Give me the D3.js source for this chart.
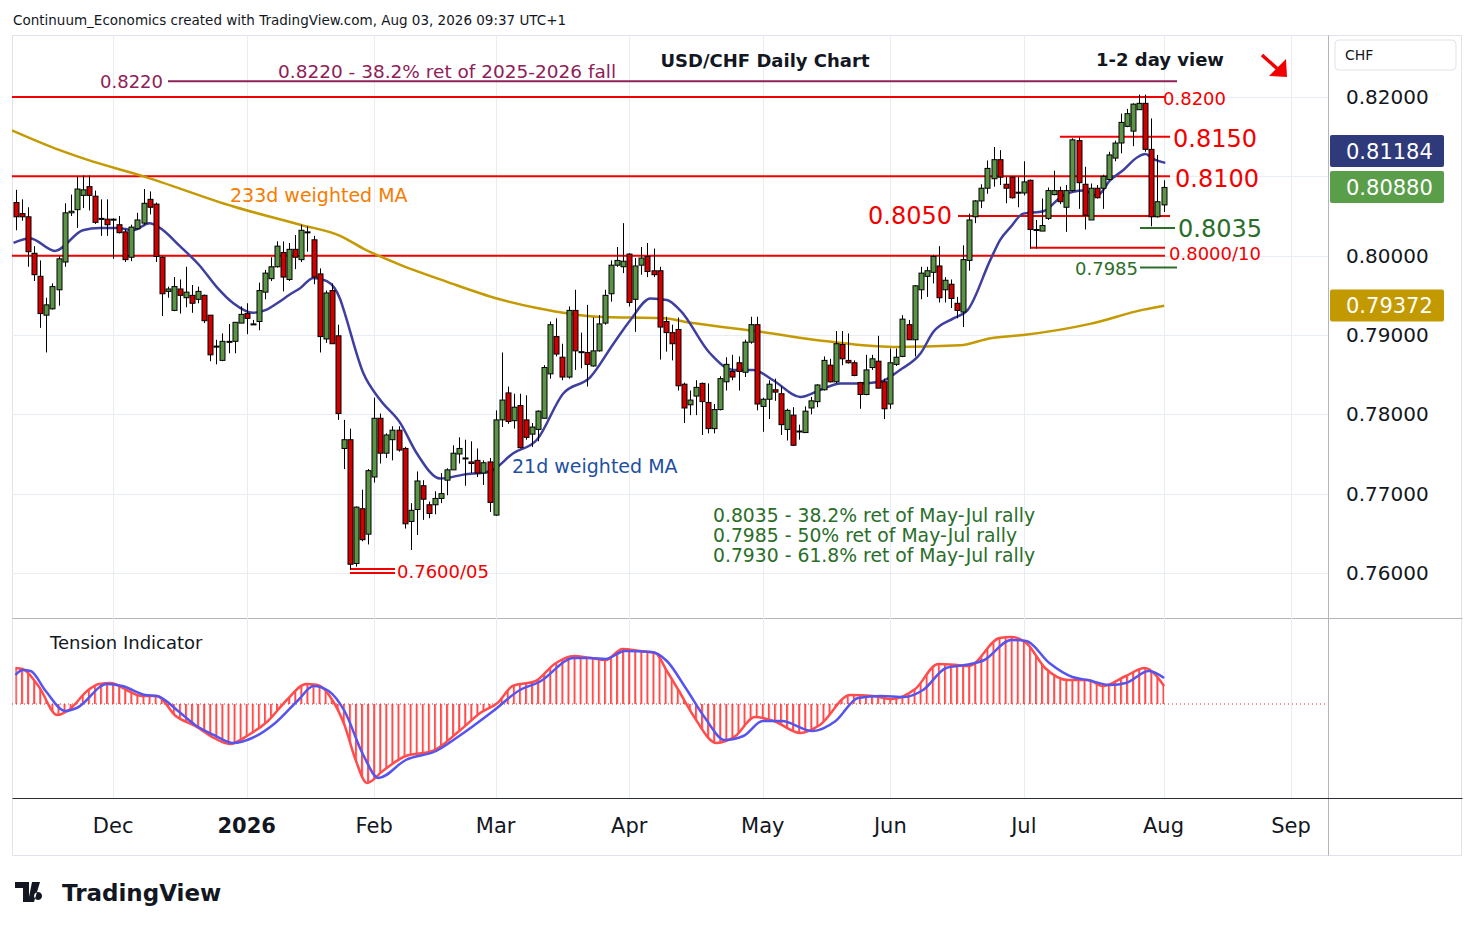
<!DOCTYPE html>
<html>
<head>
<meta charset="utf-8">
<title>USD/CHF Daily Chart</title>
<script src="https://d3js.org/d3.v7.min.js"></script>
<style>
body{margin:0;background:#fff;}
text{font-family:"DejaVu Sans",sans-serif;}
</style>
</head>
<body>
<script>
// daily candles [open, high, low, close]
var candles = [
 [.8067,.8083,.8032,.8049],[.8053,.8071,.8044,.8049],[.8049,.8061,.7986,.8005],[.8003,.8012,.7968,.7976],
 [.7974,.7994,.7909,.7927],[.7925,.7947,.7878,.7938],[.7933,.7965,.7932,.7961],[.7957,.7999,.7937,.7996],
 [.7992,.8066,.7986,.8054],[.8054,.8077,.8050,.8056],[.8058,.8100,.8035,.8084],[.8076,.8101,.8060,.8083],
 [.8087,.8101,.8057,.8076],[.8075,.8082,.8040,.8042],[.8047,.8071,.8025,.8047],[.8046,.8071,.8025,.8039],
 [.8046,.8047,.7996,.8046],[.8039,.8050,.8028,.8029],[.8030,.8033,.7992,.7995],[.7998,.8039,.7993,.8036],
 [.8034,.8054,.8033,.8045],[.8041,.8084,.8039,.8066],[.8071,.8081,.8052,.8061],[.8065,.8067,.7992,.7999],
 [.7998,.7999,.7924,.7952],[.7955,.7961,.7947,.7958],[.7931,.7973,.7930,.7961],[.7958,.7970,.7927,.7950],
 [.7947,.7986,.7935,.7954],[.7950,.7963,.7928,.7940],[.7945,.7961,.7940,.7955],[.7950,.7951,.7915,.7918],
 [.7925,.7925,.7867,.7875],[.7886,.7894,.7863,.7886],[.7868,.7902,.7867,.7892],[.7892,.7914,.7877,.7892],
 [.7892,.7916,.7877,.7916],[.7915,.7936,.7915,.7926],[.7927,.7940,.7901,.7921],[.7914,.7919,.7913,.7914],
 [.7917,.7966,.7906,.7956],[.7954,.7982,.7945,.7978],[.7971,.7998,.7968,.7986],[.7986,.8018,.7985,.8012],
 [.8004,.8018,.7955,.7973],[.7970,.8016,.7968,.8008],[.8008,.8026,.7983,.7998],[.7995,.8039,.7992,.8032],
 [.8030,.8037,.8005,.8030],[.8020,.8025,.7964,.7973],[.7977,.7984,.7878,.7898],[.7895,.7956,.7890,.7953],
 [.7956,.7965,.7889,.7889],[.7899,.7913,.7793,.7801],[.7757,.7793,.7731,.7768],[.7768,.7782,.7604,.7611],
 [.7612,.7684,.7608,.7683],[.7681,.7705,.7640,.7642],[.7649,.7731,.7636,.7729],[.7721,.7821,.7714,.7795],
 [.7795,.7801,.7738,.7751],[.7751,.7776,.7745,.7774],[.7768,.7785,.7742,.7780],[.7780,.7785,.7753,.7755],
 [.7757,.7759,.7656,.7662],[.7665,.7688,.7629,.7679],[.7680,.7728,.7648,.7716],[.7710,.7717,.7667,.7693],
 [.7686,.7690,.7669,.7675],[.7686,.7703,.7674,.7694],[.7694,.7726,.7688,.7700],[.7717,.7732,.7698,.7730],
 [.7730,.7761,.7730,.7751],[.7750,.7771,.7738,.7757],[.7745,.7768,.7710,.7745],[.7740,.7766,.7726,.7738],
 [.7742,.7757,.7721,.7726],[.7726,.7742,.7711,.7739],[.7740,.7745,.7677,.7689],[.7673,.7805,.7672,.7793],
 [.7793,.7878,.7784,.7818],[.7827,.7835,.7788,.7791],[.7792,.7826,.7782,.7809],[.7811,.7826,.7757,.7758],
 [.7793,.7824,.7768,.7771],[.7775,.7789,.7759,.7784],[.7781,.7805,.7766,.7804],[.7795,.7862,.7795,.7859],
 [.7851,.7917,.7845,.7913],[.7898,.7921,.7873,.7876],[.7872,.7889,.7843,.7847],[.7847,.7936,.7845,.7931],
 [.7931,.7957,.7856,.7880],[.7879,.7903,.7858,.7879],[.7878,.7938,.7835,.7863],[.7861,.7922,.7860,.7880],
 [.7880,.7925,.7879,.7914],[.7915,.7957,.7913,.7950],[.7952,.7994,.7942,.7988],[.7988,.8011,.7986,.7994],
 [.7986,.8041,.7978,.7993],[.8002,.8003,.7936,.7941],[.7945,.7997,.7904,.7987],[.7988,.8011,.7976,.7997],
 [.7999,.8016,.7973,.7980],[.7981,.8009,.7973,.7976],[.7981,.7986,.7869,.7910],[.7917,.7923,.7879,.7903],
 [.7903,.7913,.7868,.7889],[.7907,.7922,.7830,.7836],[.7838,.7840,.7789,.7808],[.7812,.7830,.7799,.7818],
 [.7823,.7843,.7799,.7834],[.7839,.7840,.7774,.7816],[.7815,.7839,.7776,.7782],[.7782,.7813,.7776,.7806],
 [.7806,.7848,.7805,.7845],[.7841,.7872,.7830,.7863],[.7854,.7875,.7843,.7847],[.7865,.7873,.7830,.7854],
 [.7853,.7894,.7847,.7891],[.7891,.7923,.7889,.7913],[.7913,.7923,.7805,.7813],[.7810,.7821,.7778,.7819],
 [.7819,.7843,.7794,.7838],[.7831,.7845,.7817,.7828],[.7826,.7835,.7774,.7787],[.7781,.7807,.7767,.7805],
 [.7799,.7809,.7760,.7761],[.7779,.7787,.7768,.7779],[.7777,.7810,.7777,.7804],[.7808,.7822,.7800,.7817],
 [.7816,.7838,.7809,.7837],[.7831,.7873,.7830,.7868],[.7862,.7870,.7840,.7841],[.7841,.7905,.7839,.7889],
 [.7888,.7905,.7862,.7870],[.7868,.7902,.7864,.7865],[.7865,.7868,.7848,.7849],[.7840,.7841,.7807,.7825],
 [.7825,.7875,.7824,.7856],[.7859,.7875,.7856,.7870],[.7867,.7899,.7833,.7833],[.7841,.7845,.7794,.7807],
 [.7813,.7883,.7807,.7865],[.7863,.7883,.7861,.7872],[.7873,.7925,.7872,.7920],[.7913,.7919,.7894,.7894],
 [.7894,.7963,.7873,.7962],[.7957,.7986,.7945,.7978],[.7974,.7986,.7948,.7981],[.7979,.8001,.7965,.7999],
 [.7987,.8012,.7941,.7947],[.7957,.7973,.7941,.7969],[.7964,.7970,.7934,.7946],[.7940,.7948,.7921,.7931],
 [.7929,.8013,.7910,.7995],[.7994,.8053,.7981,.8045],[.8049,.8070,.8041,.8069],[.8069,.8090,.8060,.8085],
 [.8085,.8120,.8078,.8110],[.8097,.8137,.8087,.8121],[.8121,.8133,.8089,.8099],[.8090,.8099,.8066,.8085],
 [.8099,.8100,.8072,.8073],[.8080,.8099,.8061,.8080],[.8079,.8119,.8076,.8093],[.8095,.8096,.8009,.8033],
 [.8033,.8045,.8009,.8033],[.8031,.8072,.8031,.8038],[.8047,.8086,.8045,.8082],[.8077,.8107,.8076,.8082],
 [.8082,.8087,.8065,.8068],[.8061,.8089,.8030,.8082],[.8082,.8148,.8081,.8146],[.8145,.8149,.8059,.8092],
 [.8090,.8112,.8033,.8051],[.8045,.8091,.8045,.8085],[.8085,.8089,.8072,.8073],[.8085,.8102,.8059,.8100],
 [.8096,.8131,.8095,.8127],[.8123,.8145,.8119,.8142],[.8142,.8179,.8129,.8168],[.8163,.8185,.8162,.8179],
 [.8157,.8192,.8138,.8191],[.8184,.8203,.8184,.8192],[.8192,.8203,.8131,.8134],[.8134,.8173,.8037,.8049],
 [.8049,.8127,.8048,.8068],[.8064,.8095,.8055,.8086]
];

// 21d weighted MA, read at bar positions [barIndex, price]
var ma21 = [[-0.4,.8016],[2.3,.8022],[6.4,.8006],[11,.8032],[13.8,.8035],[16.6,.8035],[19.3,.8032],[22,.8041],
 [23.7,.8035],[27,.8012],[30.3,.7987],[33,.7961],[35.8,.7940],[39,.7928],[41.3,.7932],[43,.7940],[45.1,.7951],
 [46.8,.7959],[49,.7972],[51.2,.7968],[53.4,.7945],[54,.7931],[57.2,.7852],[60,.7818],[63.3,.7789],[66,.7751],
 [69.9,.7719],[73.7,.7724],[78,.7728],[81.9,.7751],[85.8,.7768],[90.1,.7826],[94.6,.7847],[98.4,.7889],
 [101.2,.7919],[104.5,.7946],[107.2,.7944],[109.4,.7931],[114.3,.7877],[118.1,.7856],[121.4,.7856],
 [124.7,.7843],[129.2,.7822],[132.5,.7831],[135.8,.7839],[139,.7839],[142.3,.7841],[145.6,.7856],[149,.7877],
 [151.1,.7904],[154.4,.7921],[156.7,.7931],[160.5,.7995],[162.1,.8020],[163.8,.8036],[165.9,.8053],
 [169.2,.8056],[172.5,.8076],[175.8,.8082],[178.1,.8076],[180.2,.8095],[182.4,.8108],[184.7,.8124],
 [186,.8128],[187.3,.8122],[189.3,.8117]];

// 233d weighted MA [barIndex, price]
var ma233 = [[-0.7,.8158],[7.2,.8133],[11.7,.8121],[21,.8100],[35.8,.8062],[46.8,.8039],[53.4,.8025],
 [57.2,.8009],[62.8,.7990],[71,.7967],[79.2,.7946],[85.8,.7934],[95.7,.7923],[106.6,.7921],[111.5,.7915],
 [122.6,.7904],[133.6,.7892],[144.5,.7885],[155.5,.7887],[160.5,.7896],[165.9,.7900],[176.9,.7914],
 [185.7,.7932],[189.1,.7937]];

// Tension indicator: main line and signal [barIndex, value]
var tension = [[-0.1,36],[1.1,35],[3.7,18],[6.8,-11],[8.7,-6],[11.9,14],[13.7,20],[15.6,21],[18.2,14],[20.7,8],
 [23.2,8],[26.3,-12],[29.5,-22],[32.6,-34],[35.2,-40],[38.3,-31],[41.5,-17],[44.6,4],[47.8,20],[49.7,19],
 [52.2,3],[54.1,-21],[56,-57],[57.8,-79],[60.4,-67],[64.2,-52],[68.6,-47],[73,-27],[76.7,-8],[79.3,1],
 [81.8,18],[85.6,23],[88.7,40],[91.9,48],[94.6,46],[97.1,44],[99.9,55],[102.8,53],[105.3,51],[107.2,33],
 [109.1,14],[111.6,-12],[115.4,-39],[118.5,-32],[121.7,-13],[124.8,-17],[129.2,-29],[132.4,-21],[137.4,9],
 [141.2,8],[144.3,5],[148.1,15],[151.9,40],[155,39],[156.9,38],[162,66],[163.9,67],[166.4,61],[169.5,36],
 [173.3,24],[176.5,24],[179,18],[182.8,28],[185.9,36],[189.1,18]];
var signal = [[-0.1,29],[1.1,34],[2.4,33],[4.9,13],[8.1,-7],[10,-4],[15,20],[17.5,18],[21.3,9],[23.2,8],
 [26.9,-8],[29.5,-21],[32.6,-31],[35.8,-39],[38.9,-34],[42.7,-19],[46.5,4],[49,18],[51.5,13],[54.1,-7],
 [57.2,-51],[59.7,-74],[64.2,-56],[69.2,-47],[73,-32],[78.6,-7],[83,14],[86.2,22],[91.9,46],[94.6,46],
 [97.1,45],[100.3,53],[104.7,52],[107.2,43],[110.3,16],[113.5,-14],[116.7,-36],[119.8,-32],[123,-17],
 [126.1,-17],[131.2,-27],[135,-17],[138.7,6],[142.5,8],[146.3,7],[149.4,14],[153.2,36],[156.3,39],
 [159.5,44],[163.9,64],[166.4,63],[170.2,41],[174,27],[176.5,24],[180.3,19],[182.8,21],[186.6,33],[189.1,26]];

var priceTicks = [0.76, 0.77, 0.78, 0.79, 0.80, 0.81, 0.82];
var priceLabels = [0.76, 0.77, 0.78, 0.79, 0.80, 0.82];   // 0.81 sits under the badges
var monthLabels = ["Dec", "2026", "Feb", "Mar", "Apr", "May", "Jun", "Jul", "Aug", "Sep"];
var monthBars = [16, 38, 59, 79, 101, 123, 144, 166, 189, 210];
// last values shown on the price scale, [value, badge centre price]
var badges = [[0.81184, 0.81320, "#2e3a7a"], [0.80880, 0.80865, "#5a9e4a"], [0.79372, 0.79372, "#c29a00"]];

var W = 1474, H = 930;
var svg = d3.select("body").append("svg").attr("width", W).attr("height", H);

var plotL = 12, plotR = 1328, mainT = 35, mainB = 618, lowT = 619, lowB = 798, axisB = 855;
var x = d3.scaleLinear().domain([0, 189]).range([16, 1163.5]);
var y = d3.scaleLinear().domain([0.76, 0.82]).range([573, 97]);
var yt = d3.scaleLinear().domain([-90, 85]).range([794, 619]);

svg.append("defs").append("clipPath").attr("id", "mainClip")
  .append("rect").attr("x", plotL).attr("y", mainT).attr("width", plotR - plotL).attr("height", mainB - mainT);
svg.select("defs").append("clipPath").attr("id", "lowClip")
  .append("rect").attr("x", plotL).attr("y", lowT).attr("width", plotR - plotL).attr("height", lowB - lowT);

// frame
svg.append("rect").attr("x", 12.5).attr("y", 35.5).attr("width", 1449).attr("height", 820)
  .attr("fill", "none").attr("stroke", "#e0e3eb");
[[plotR, mainT, plotR, axisB], [plotL, mainB, W - 12, mainB], [plotL, lowB, W - 12, lowB]].forEach(function(l){
  svg.append("line").attr("x1", l[0] + 0.5).attr("y1", l[1] + 0.5).attr("x2", l[2] + 0.5).attr("y2", l[3] + 0.5)
    .attr("stroke", l[1] == lowB ? "#2a2e39" : "#b2b5be").attr("stroke-width", 1);
});

// grid
svg.append("g").selectAll("line").data(priceTicks).enter().append("line")
  .attr("x1", plotL).attr("x2", plotR).attr("y1", function(d){ return Math.round(y(d)) + 0.5; })
  .attr("y2", function(d){ return Math.round(y(d)) + 0.5; }).attr("stroke", "#e8edf3");
svg.append("g").selectAll("line").data(monthBars).enter().append("line")
  .attr("x1", function(d){ return Math.round(x(d)) + 0.5; }).attr("x2", function(d){ return Math.round(x(d)) + 0.5; })
  .attr("y1", mainT).attr("y2", lowB).attr("stroke", "#e8edf3");

// price axis
var yAxis = d3.axisRight(y).tickValues(priceLabels).tickSize(0).tickFormat(d3.format(".5f"));
var ga = svg.append("g").attr("transform", "translate(1346,0)").call(yAxis);
ga.select(".domain").remove();
ga.selectAll("text").attr("font-size", 20).attr("fill", "#131722").attr("x", 0)
  .style("font-family", "DejaVu Sans");

// time axis
var gx = svg.append("g").attr("transform", "translate(0," + 825 + ")");
gx.selectAll("text").data(monthBars).enter().append("text")
  .attr("x", function(d){ return x(d); }).attr("y", 8).attr("text-anchor", "middle")
  .attr("font-size", 21).attr("fill", "#131722")
  .attr("font-weight", function(d, i){ return monthLabels[i] == "2026" ? "bold" : null; })
  .text(function(d, i){ return monthLabels[i]; });

var main = svg.append("g").attr("clip-path", "url(#mainClip)");

// level lines
function hline(p, x1, x2, col, w){
  main.append("line").attr("x1", x1).attr("x2", x2).attr("y1", y(p)).attr("y2", y(p))
    .attr("stroke", col).attr("stroke-width", w || 2);
}
hline(0.8220, 168, 1177, "#8e2157", 2);
hline(0.8200, plotL, 1165, "#f20000");
hline(0.8150, 1060, 1170, "#f20000");
hline(0.8100, plotL, 1170, "#f20000");
hline(0.8050, 958, 1170, "#f20000");
hline(0.8010, 1030, 1165, "#f20000");
hline(0.8000, plotL, 1165, "#f20000");
hline(0.8035, 1140, 1175, "#2a6e2a");
hline(0.7985, 1140, 1177, "#2a6e2a");
hline(0.7600, 350, 395, "#f20000");
hline(0.7605, 350, 395, "#f20000");

// moving averages
var lineGen = d3.line().x(function(d){ return x(d[0]); }).y(function(d){ return y(d[1]); }).curve(d3.curveMonotoneX);
main.append("path").datum(ma233).attr("d", lineGen).attr("fill", "none").attr("stroke", "#c49a00").attr("stroke-width", 2.5);
main.append("path").datum(ma21).attr("d", lineGen).attr("fill", "none").attr("stroke", "#3e3f9e").attr("stroke-width", 2.5);

// candles
var cg = main.append("g").selectAll("g").data(candles).enter().append("g");
cg.append("line")
  .attr("x1", function(d, i){ return Math.round(x(i)) + 0.5; }).attr("x2", function(d, i){ return Math.round(x(i)) + 0.5; })
  .attr("y1", function(d){ return y(d[1]); }).attr("y2", function(d){ return y(d[2]); })
  .attr("stroke", "#000").attr("stroke-width", 1);
cg.append("rect")
  .attr("x", function(d, i){ return Math.round(x(i)) - 2; }).attr("width", 5)
  .attr("y", function(d){ return y(Math.max(d[0], d[3])); })
  .attr("height", function(d){ return Math.max(1, Math.abs(y(d[0]) - y(d[3]))); })
  .attr("fill", function(d){ return d[3] >= d[0] ? "#5b9447" : "#d10000"; })
  .attr("stroke", "#000").attr("stroke-width", 1);

// annotations
function label(t, xx, yy, col, size, anchor, weight){
  svg.append("text").attr("x", xx).attr("y", yy).attr("fill", col).attr("font-size", size)
    .attr("text-anchor", anchor || "start").attr("font-weight", weight || null).text(t);
}
label("Continuum_Economics created with TradingView.com, Aug 03, 2026 09:37 UTC+1", 13, 25, "#131722", 13.5);
label("USD/CHF Daily Chart", 765, 67, "#131722", 18, "middle", "bold");
label("1-2 day view", 1160, 66, "#131722", 18, "middle", "bold");
label("0.8220", 100, 88, "#8e2157", 18);
label("0.8220 - 38.2% ret of 2025-2026 fall", 278, 78, "#8e2157", 18.5);
label("0.8200", 1163, 105, "#f20000", 18);
label("0.8150", 1173, 147, "#f20000", 24);
label("0.8100", 1175, 187, "#f20000", 24);
label("0.8050", 952, 224, "#f20000", 24, "end");
label("0.8035", 1178, 237, "#2a6e2a", 24);
label("0.8000/10", 1169, 260, "#f20000", 18);
label("0.7985", 1138, 275, "#2a6e2a", 18, "end");
label("0.7600/05", 397, 578, "#f20000", 18);
label("233d weighted MA", 230, 202, "#f57c00", 19);
label("21d weighted MA", 512, 473, "#1e4fa0", 19);
label("0.8035 - 38.2% ret of May-Jul rally", 713, 522, "#2a6e2a", 18.8);
label("0.7985 - 50% ret of May-Jul rally", 713, 542, "#2a6e2a", 18.8);
label("0.7930 - 61.8% ret of May-Jul rally", 713, 562, "#2a6e2a", 18.8);
label("Tension Indicator", 50, 649, "#131722", 18);

// arrow
svg.append("line").attr("x1", 1262).attr("y1", 55).attr("x2", 1282).attr("y2", 73)
  .attr("stroke", "#f20000").attr("stroke-width", 3.5);
svg.append("path").attr("d", "M1287,77 L1269,76 L1286,59 Z").attr("fill", "#f20000");

// price badges
svg.append("rect").attr("x", 1335).attr("y", 40).attr("width", 121).attr("height", 30).attr("rx", 4)
  .attr("fill", "#fff").attr("stroke", "#e0e3eb");
label("CHF", 1345, 60, "#131722", 14);
badges.forEach(function(b){
  svg.append("rect").attr("x", 1330).attr("y", y(b[1]) - 16).attr("width", 114).attr("height", 32)
    .attr("rx", 2).attr("fill", b[2]);
  label(b[0].toFixed(5), 1346, y(b[1]) + 8, "#fff", 21);
});

// tension panel
var low = svg.append("g").attr("clip-path", "url(#lowClip)");
var pat = svg.select("defs").append("pattern").attr("id", "stripes").attr("patternUnits", "userSpaceOnUse")
  .attr("x", x(0) - 1).attr("y", 0).attr("width", x(1) - x(0)).attr("height", 10);
pat.append("rect").attr("x", 0).attr("y", 0).attr("width", 2).attr("height", 10).attr("fill", "#ff4d4d");
var areaGen = d3.area().x(function(d){ return x(d[0]); }).y0(yt(0)).y1(function(d){ return yt(d[1]); }).curve(d3.curveMonotoneX);
low.append("path").datum(tension).attr("d", areaGen).attr("fill", "url(#stripes)");
low.append("line").attr("x1", plotL).attr("x2", plotR).attr("y1", yt(0)).attr("y2", yt(0))
  .attr("stroke", "#d32f2f").attr("stroke-dasharray", "1,3");
var tLine = d3.line().x(function(d){ return x(d[0]); }).y(function(d){ return yt(d[1]); }).curve(d3.curveMonotoneX);
low.append("path").datum(tension).attr("d", tLine).attr("fill", "none").attr("stroke", "#ff4d4d").attr("stroke-width", 2.5);
low.append("path").datum(signal).attr("d", tLine).attr("fill", "none").attr("stroke", "#5555ee").attr("stroke-width", 2.5);

// logo
svg.append("path").attr("d", "M15,882 h14 v20 h-6 v-14 h-8 Z M32,882 h8 l-6,20 h-6 Z M38,892 a4,4 0 1,0 0.1,0")
  .attr("fill", "#131722");
label("TradingView", 62, 901, "#131722", 23, "start", "bold");
</script>
</body>
</html>
